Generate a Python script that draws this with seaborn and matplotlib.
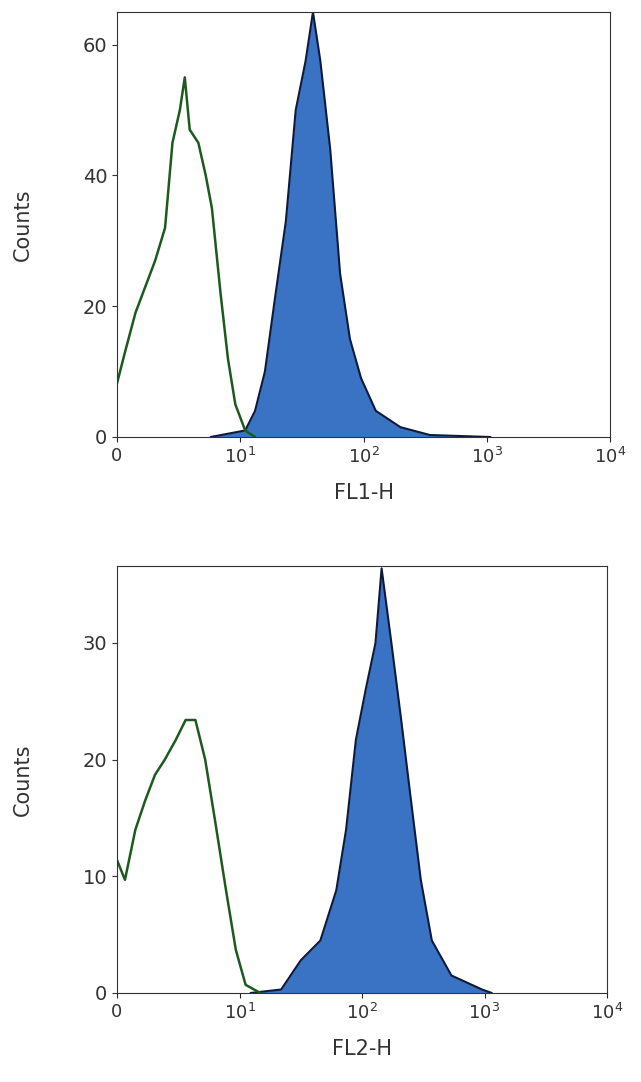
import matplotlib
matplotlib.use("Agg")
import matplotlib.pyplot as plt
import seaborn as sns
import pandas as pd

# Top panel (FL1-H), x in decades (0..4)
g1_x = [0, 0.065, 0.15, 0.23, 0.31, 0.39, 0.45, 0.51, 0.55, 0.59, 0.66, 0.72, 0.77, 0.84, 0.90, 0.96, 1.04, 1.12]
g1_y = [8.2, 13, 19, 23, 27, 32, 45, 50, 55, 47, 45, 40, 35, 22, 12, 5, 1, 0]
b1_x = [0.76, 1.04, 1.12, 1.20, 1.28, 1.37, 1.45, 1.53, 1.59, 1.65, 1.73, 1.81, 1.89, 1.98, 2.10, 2.30, 2.54, 3.03]
b1_y = [0, 1, 4, 10, 21, 33, 50, 57.5, 65, 57.5, 44, 25, 15, 9, 4, 1.5, 0.3, 0]
# Bottom panel (FL2-H)
g2_x = [0, 0.065, 0.15, 0.23, 0.31, 0.39, 0.48, 0.56, 0.64, 0.72, 0.80, 0.89, 0.97, 1.05, 1.17]
g2_y = [11.4, 9.7, 14, 16.5, 18.7, 20, 21.7, 23.4, 23.4, 20, 14.8, 8.8, 3.7, 0.7, 0]
b2_x = [1.09, 1.34, 1.50, 1.66, 1.79, 1.87, 1.95, 2.03, 2.11, 2.16, 2.24, 2.32, 2.40, 2.48, 2.57, 2.73, 2.98, 3.06]
b2_y = [0, 0.3, 2.8, 4.5, 8.8, 14, 21.7, 26, 30, 36.4, 30, 23.4, 16.5, 9.7, 4.5, 1.5, 0.3, 0]

xticks = [0, 1, 2, 3, 4]
xticklabels = ["0", "10$^1$", "10$^2$", "10$^3$", "10$^4$"]

sns.set_style("ticks")
plt.rcParams['font.family'] = ['DejaVu Sans']

fig = plt.figure(figsize=(6.41, 10.82), dpi=100)
W, H = 641, 1082
ax1 = fig.add_axes([117/W, (H-437)/H, 493/W, 425/H])
ax2 = fig.add_axes([117/W, (H-993)/H, 490/W, 427/H])

panels = [
    (ax1, g1_x, g1_y, b1_x, b1_y, 65, [0, 20, 40, 60], "FL1-H"),
    (ax2, g2_x, g2_y, b2_x, b2_y, 36.6, [0, 10, 20, 30], "FL2-H"),
]
for ax, gx, gy, bx, by, ymax, yt, xl in panels:
    ax.fill_between(bx, by, color="#3b73c4", linewidth=0)
    sns.lineplot(x=bx, y=by, ax=ax, color="#0d1a3a", linewidth=1.5, sort=False)
    sns.lineplot(x=gx, y=gy, ax=ax, color="#1e5a1e", linewidth=1.8, sort=False)
    ax.set_xlim(0, 4)
    ax.set_ylim(0, ymax)
    ax.set_xticks(xticks)
    ax.set_xticklabels(xticklabels, fontsize=13, color="#333333")
    ax.set_yticks(yt)
    ax.tick_params(axis="y", labelsize=14, colors="#333333")
    ax.set_xlabel(xl, fontsize=15, color="#333333", labelpad=12)
    ax.set_ylabel("Counts", fontsize=15, color="#333333", labelpad=36)
    for s in ax.spines.values():
        s.set_visible(True)
        s.set_linewidth(0.8)
        s.set_color("#333333")

fig.savefig("out.png", dpi=100)
